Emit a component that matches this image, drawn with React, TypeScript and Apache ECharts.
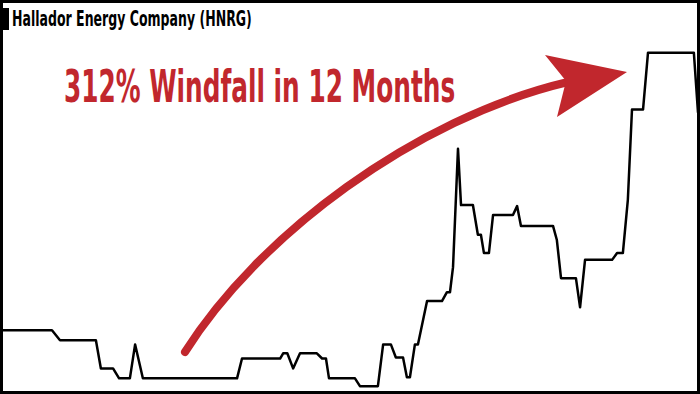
import React, { useEffect, useRef } from "react";
import * as echarts from "echarts";

// Trading day index (12 months ≈ 252 trading days)
const days = [
  0, 18.1, 21.0, 34.0, 35.8, 40.2, 42.4, 46.3, 48.2, 51.0,
  85.1, 86.9, 100.7, 101.8, 103.3, 105.4, 107.9, 114.0, 115.9, 117.3,
  118.4, 127.8, 129.6, 136.1, 138.0, 140.8, 142.6, 145.2, 146.6, 147.7,
  149.5, 150.6, 153.9, 159.3, 161.1, 162.2, 163.3, 165.1, 166.2, 170.5,
  172.3, 173.4, 174.5, 176.3, 177.8, 185.0, 186.5, 187.9, 199.5, 200.9,
  202.4, 207.8, 209.3, 211.1, 220.9, 222.7, 224.8, 226.6, 228.1, 232.1,
  233.9, 250.5, 252.0,
];

// Closing price (USD)
const prices = [
  2.92, 2.92, 2.73, 2.73, 2.19, 2.19, 2.0, 2.0, 2.65, 2.0,
  2.0, 2.38, 2.38, 2.48, 2.48, 2.19, 2.48, 2.48, 2.38, 2.38,
  2.0, 2.0, 1.85, 1.85, 2.65, 2.65, 2.4, 2.4, 2.02, 2.02,
  2.65, 2.65, 3.48, 3.48, 3.65, 3.65, 4.13, 6.4, 5.32, 5.32,
  4.75, 4.75, 4.4, 4.4, 5.13, 5.13, 5.3, 4.92, 4.92, 4.65,
  3.92, 3.92, 3.36, 4.27, 4.27, 4.4, 4.4, 5.42, 7.15, 7.15,
  8.24, 8.24, 7.09,
];

const titleText = "Hallador Energy Company (HNRG)";
const headlineText = "312% Windfall in 12 Months";

function fitScale(text: string, font: string, target: number): number {
  const ctx = document.createElement("canvas").getContext("2d");
  if (!ctx) return 1;
  ctx.font = font;
  const w = ctx.measureText(text).width;
  return w > 0 ? target / w : 1;
}

export default function App() {
  const ref = useRef<HTMLDivElement>(null);

  useEffect(() => {
    if (!ref.current) return;
    const chart = echarts.init(ref.current, null, { renderer: "svg" });

    const titleFont = "bold 22px 'DejaVu Sans'";
    const headFont = "bold 45px 'DejaVu Sans'";
    const titleScale = fitScale(titleText, titleFont, 240);
    const headScale = fitScale(headlineText, headFont, 391);
    const red = "#C1272D";

    chart.setOption({
      animation: false,
      backgroundColor: "#ffffff",
      grid: { left: 2, right: 2, top: 13, bottom: 0, containLabel: false },
      xAxis: {
        type: "value",
        min: 0,
        max: 252,
        show: false,
        splitLine: { show: false },
      },
      yAxis: {
        type: "value",
        min: 1.7,
        max: 9.0,
        show: false,
        splitLine: { show: false },
      },
      series: [
        {
          type: "line",
          data: days.map((d, i) => [d, prices[i]]),
          showSymbol: false,
          symbol: "none",
          smooth: false,
          clip: false,
          lineStyle: { color: "#000000", width: 2.5, join: "round" },
          z: 2,
        },
      ],
      graphic: {
        elements: [
          {
            type: "rect",
            shape: { x: 1.5, y: 1.5, width: 697, height: 391 },
            style: { fill: "none", stroke: "#000000", lineWidth: 3 },
            z: 10,
          },
          {
            type: "rect",
            shape: { x: 0, y: 8, width: 9, height: 22 },
            style: { fill: "#000000" },
            z: 10,
          },
          {
            type: "text",
            x: 12,
            y: 18.5,
            scaleX: titleScale,
            style: {
              text: titleText,
              font: titleFont,
              fill: "#000000",
              textAlign: "left",
              textVerticalAlign: "middle",
              align: "left",
              verticalAlign: "middle",
            },
            z: 10,
          },
          {
            type: "text",
            x: 64,
            y: 87,
            scaleX: headScale,
            style: {
              text: headlineText,
              font: headFont,
              fill: red,
              textAlign: "left",
              textVerticalAlign: "middle",
              align: "left",
              verticalAlign: "middle",
            },
            z: 10,
          },
          {
            type: "bezierCurve",
            shape: {
              x1: 185,
              y1: 352,
              cpx1: 258,
              cpy1: 236,
              cpx2: 415,
              cpy2: 118,
              x2: 568,
              y2: 82,
            },
            style: { stroke: red, lineWidth: 8, lineCap: "round", fill: "none" },
            z: 10,
          },
          {
            type: "polygon",
            shape: {
              points: [
                [545, 55],
                [627, 72],
                [557, 117],
                [566, 81],
              ],
            },
            style: { fill: red },
            z: 11,
          },
        ],
      },
    });

    return () => chart.dispose();
  }, []);

  return (
    <div
      ref={ref}
      style={{ position: "fixed", left: 0, top: 0, width: 700, height: 394 }}
    />
  );
}
